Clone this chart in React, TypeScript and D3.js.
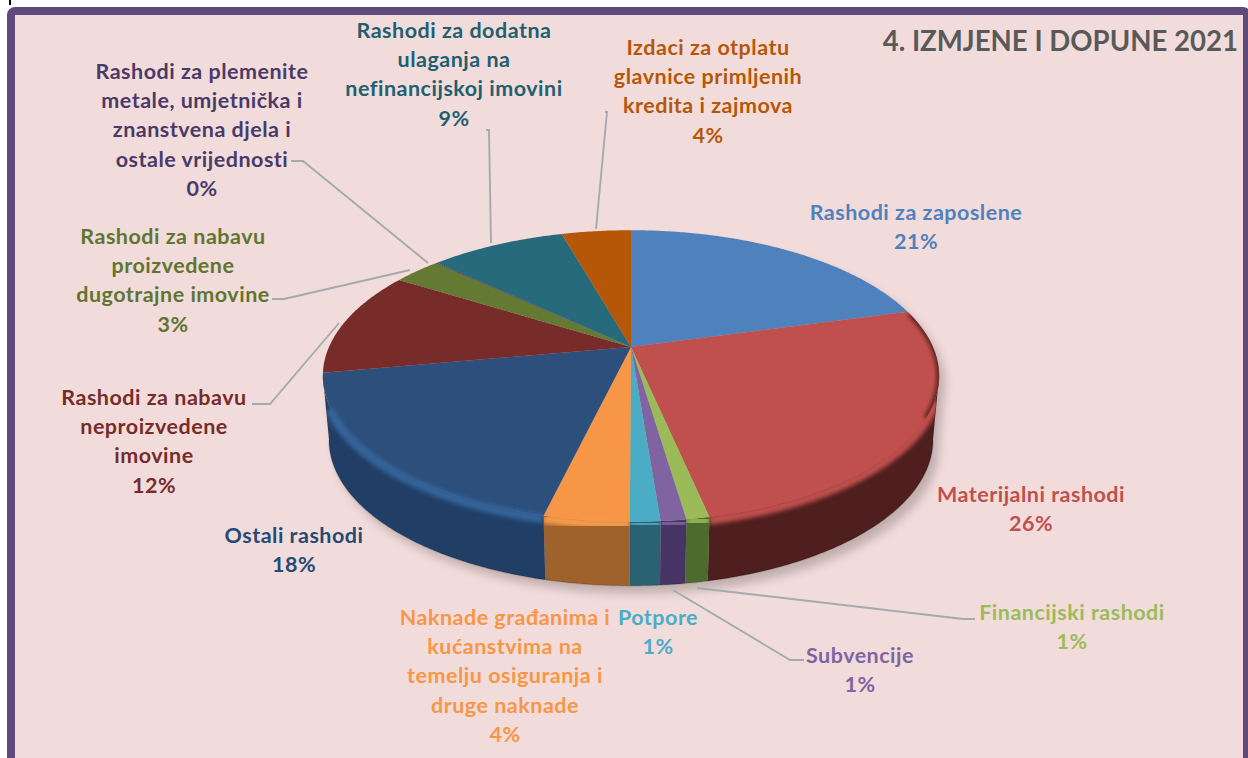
import React from "react";
import * as d3 from "d3";

const names = [
  "Rashodi za zaposlene",
  "Materijalni rashodi",
  "Financijski rashodi",
  "Subvencije",
  "Potpore",
  "Naknade građanima i kućanstvima na temelju osiguranja i druge naknade",
  "Ostali rashodi",
  "Rashodi za nabavu neproizvedene imovine",
  "Rashodi za nabavu proizvedene dugotrajne imovine",
  "Rashodi za plemenite metale, umjetnička i znanstvena djela i ostale vrijednosti",
  "Rashodi za dodatna ulaganja na nefinancijskoj imovini",
  "Izdaci za otplatu glavnice primljenih kredita i zajmova",
];
const values = [20.7, 25.9, 1.0, 1.1, 1.3, 3.7, 18.4, 11.7, 3.0, 0.1, 8.6, 4.4];
const percents = ["21%", "26%", "1%", "1%", "1%", "4%", "18%", "12%", "3%", "0%", "9%", "4%"];
const topColors = ["#4f81bd", "#c0504d", "#9bbb59", "#8064a2", "#4bacc6", "#f79646", "#2c4f7c", "#772c2a", "#647a32", "#403152", "#276a7c", "#b65708"];
const sideColors = ["#345680", "#4e1f1e", "#4e6b2e", "#463465", "#2b6273", "#a0622c", "#213f66", "#4f1d1c", "#40501f", "#2a2036", "#1a4652", "#7a3a05"];
const rimColors = ["#4f81bd", "#c0504d", "#93b255", "#7a5f9a", "#48a4bd", "#f79a4c", "#34639a", "#772c2a", "#647a32", "#403152", "#276a7c", "#b65708"];
const textColors = ["#4f81bd", "#c0504d", "#9bbb59", "#8064a2", "#4bacc6", "#f79646", "#254a75", "#772c2a", "#5f7530", "#4a3a68", "#215f70", "#b65708"];

// Label layout: wrapped lines, centre x, first-line centre y, leader polyline
const labelLines = [
  ["Rashodi za zaposlene"],
  ["Materijalni rashodi"],
  ["Financijski rashodi"],
  ["Subvencije"],
  ["Potpore"],
  ["Naknade građanima i", "kućanstvima na", "temelju osiguranja i", "druge naknade"],
  ["Ostali rashodi"],
  ["Rashodi za nabavu", "neproizvedene", "imovine"],
  ["Rashodi za nabavu", "proizvedene", "dugotrajne imovine"],
  ["Rashodi za plemenite", "metale, umjetnička i", "znanstvena djela i", "ostale vrijednosti"],
  ["Rashodi za dodatna", "ulaganja na", "nefinancijskoj imovini"],
  ["Izdaci za otplatu", "glavnice primljenih", "kredita i zajmova"],
];
const labelX = [916, 1031, 1072, 860, 658, 505, 294, 154, 173, 202, 454, 708];
const labelY = [212, 494, 612, 655, 617, 617, 535, 397, 236, 71, 30, 47];
const leaders: ([number, number][] | null)[] = [
  null, null,
  [[975, 619], [963, 619], [697, 588]],
  [[804, 660], [790, 660], [673, 590]],
  null, null, null,
  [[252, 404], [270, 404], [339, 323]],
  [[272, 299], [284, 299], [410, 270]],
  [[291, 161], [303, 161], [428, 263]],
  [[486, 130], [489, 130], [491, 243]],
  [[605, 112], [607, 112], [596, 229]],
];

const title = "4. IZMJENE I DOPUNE 2021";

const W = 1248, H = 758;
const cx = 631, cy = 347, Rx = 302, Ry = 140, persp = 0.1987, depth = 64, lowScale = 0.98;
const tau = Math.PI * 2;
const limit = Math.acos(-persp); // silhouette angle of the perspective rim

const project = (t: number, dy = 0): [number, number] => {
  const u = Math.sin(t), v = Math.cos(t), s = 1 + persp * v;
  return [cx + (Rx * u) / s, cy - (Ry * v) / s + dy];
};
const projectLow = (t: number): [number, number] => {
  const [x, y] = project(t);
  return [cx + (x - cx) * lowScale, y + depth];
};
const samples = (a: number, b: number) => {
  const n = Math.max(2, Math.ceil(Math.abs(b - a) / 0.01));
  return d3.range(n + 1).map((i) => a + ((b - a) * i) / n);
};
const line = d3.line<[number, number]>();
const closed = (pts: [number, number][]) => (line(pts) || "") + "Z";

const arcs = d3.pie<number>().sort(null).value((d) => d)(values);

const visibleRange = (a: number, b: number): [number, number] | null => {
  const lo = Math.max(a, limit), hi = Math.min(b, tau - limit);
  return hi > lo ? [lo, hi] : null;
};

const FONT = "Lato, Carlito, 'Open Sans', sans-serif";

export default function App() {
  const outline = samples(0, tau).map((t) => project(t));
  const lowOutline = samples(limit, tau - limit).map((t) => projectLow(t));
  const silhouette = closed([...samples(tau - limit, tau + limit).map((t) => project(t)), ...lowOutline]);
  const sides = arcs.map((arc, i) => {
    const r = visibleRange(arc.startAngle, arc.endAngle);
    if (!r) return null;
    const ts = samples(r[0], r[1]);
    const upper = ts.map((t) => project(t));
    const lower = ts.slice().reverse().map((t) => projectLow(t));
    const raised = ts.map((t) => project(t, -9));
    const rimTs = samples(Math.max(r[0], limit + 0.15), Math.min(r[1], tau - limit - 0.2));
    return {
      i,
      path: closed([...upper, ...lower]),
      band: closed([...raised, ...lower]),
      rim: line(rimTs.map((t) => project(t, 3))) || "",
    };
  });
  const darkRim = line(samples(1.32, 2.05).map((t) => project(t))) || "";
  const lowEdge = line(samples(limit, tau - limit).map((t) => projectLow(t))) || "";

  return (
    <svg width={W} height={H} viewBox={`0 0 ${W} ${H}`} style={{ position: "absolute", left: 0, top: 0, display: "block" }}>
      <defs>
        <filter id="soft2" x="-20%" y="-20%" width="140%" height="140%">
          <feGaussianBlur stdDeviation="2.2" />
        </filter>
        <filter id="shadow" x="-20%" y="-20%" width="140%" height="140%">
          <feGaussianBlur stdDeviation="5" />
        </filter>
        {sides.map((s) => s && (
          <clipPath key={s.i} id={`side-${s.i}`}>
            <path d={s.band} />
          </clipPath>
        ))}
        <clipPath id="top-clip">
          <path d={closed(outline)} />
        </clipPath>
      </defs>

      <rect x={0} y={0} width={W} height={H} fill="#ffffff" />
      <rect x={9} y={0} width={2} height={5} fill="#000000" />
      <rect x={11} y={11} width={1236} height={800} rx={4} fill="#f2dcdb" stroke="#604a7b" strokeWidth={8} />

      <path d={silhouette} fill="#000000" opacity={0.2} transform="translate(6,8)" filter="url(#shadow)" />

      {sides.map((s) => s && <path key={s.i} d={s.path} fill={sideColors[s.i]} />)}
      <path d={lowEdge} fill="none" stroke="#000000" strokeOpacity={0.15} strokeWidth={1.5} />

      {arcs.map((arc, i) => (
        <path
          key={i}
          d={closed([[cx, cy], ...samples(arc.startAngle, arc.endAngle).map((t) => project(t))])}
          fill={topColors[i]}
        />
      ))}
      {sides.map((s) => s && (
        <g key={s.i} clipPath={`url(#side-${s.i})`}>
          <path d={s.rim} fill="none" stroke={rimColors[s.i]} strokeWidth={9} filter="url(#soft2)" />
        </g>
      ))}
      <g clipPath="url(#top-clip)">
        <path d={darkRim} fill="none" stroke="#3a1514" strokeWidth={4} filter="url(#soft2)" />
      </g>

      {leaders.map((pts, i) => pts && (
        <path key={i} d={line(pts) || ""} fill="none" stroke="#a3abab" strokeWidth={1.9} />
      ))}

      <g fontFamily={FONT} fontWeight={700} fontSize={21.5} letterSpacing={0.5} textAnchor="middle">
        {labelLines.map((lines, i) => (
          <text key={i} fill={textColors[i]} dominantBaseline="central">
            {[...lines, percents[i]].map((l, j) => (
              <tspan key={j} x={labelX[i]} y={labelY[i] + j * 29.2}>{l}</tspan>
            ))}
          </text>
        ))}
      </g>

      <text x={1238} y={40} textAnchor="end" dominantBaseline="central" fontFamily={FONT} fontWeight={700} fontSize={27.6} fill="#595959">
        {title}
      </text>
    </svg>
  );
}
